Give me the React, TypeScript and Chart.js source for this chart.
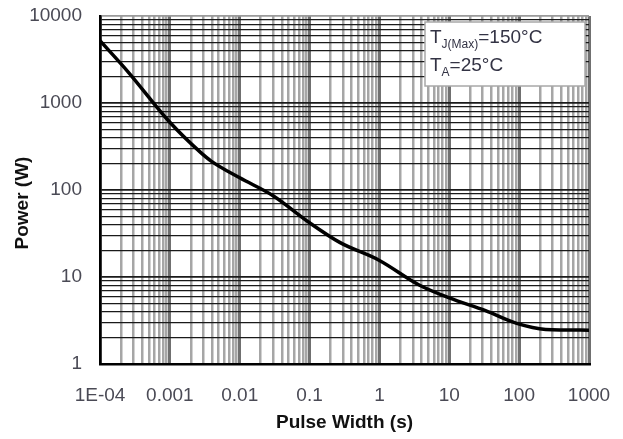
import React, { useEffect, useRef } from "react";
import { Chart, registerables } from "chart.js";

Chart.register(...registerables);

// Pulse width (s) and peak power (W)
const pulseWidth = [1e-4, 2.5e-4, 0.001, 0.0027, 0.0039, 0.01, 0.03, 0.1, 0.27, 1, 3.7, 10, 33, 90, 240, 1000];
const power = [5200, 2300, 600, 274, 215, 138, 86, 42, 25, 15.5, 8.1, 5.75, 4.1, 2.95, 2.5, 2.45];

const xTickLabels = ["1E-04", "0.001", "0.01", "0.1", "1", "10", "100", "1000"];
const yTickLabels = ["1", "10", "100", "1000", "10000"];
const xMin = 1e-4;
const xMax = 1000;
const yMin = 1;
const yMax = 10000;

const xTitle = "Pulse Width (s)";
const yTitle = "Power (W)";
const noteLine1 = { main: "T", sub: "J(Max)", rest: "=150°C" };
const noteLine2 = { main: "T", sub: "A", rest: "=25°C" };

function logTicks(min: number, max: number) {
  const out: { value: number }[] = [];
  const e0 = Math.round(Math.log10(min));
  const e1 = Math.round(Math.log10(max));
  for (let e = e0; e < e1; e++) {
    for (let s = 1; s <= 9; s++) out.push({ value: s * Math.pow(10, e) });
  }
  out.push({ value: Math.pow(10, e1) });
  return out;
}

function isMajor(v: number) {
  const l = Math.log10(v);
  return Math.abs(l - Math.round(l)) < 1e-6;
}

function majorIndex(v: number, min: number) {
  return Math.round(Math.log10(v) - Math.log10(min));
}

const FONT = "'Liberation Sans', Arial, sans-serif";

const decorPlugin = {
  id: "decor",
  beforeDatasetsDraw(chart: any) {
    const ctx = chart.ctx as CanvasRenderingContext2D;
    ctx.save();
    // note box
    const bx = 425, by = 22, bw = 160, bh = 64;
    ctx.fillStyle = "#ffffff";
    ctx.fillRect(bx, by, bw, bh);
    ctx.strokeStyle = "#a8a8a8";
    ctx.lineWidth = 1.5;
    ctx.strokeRect(bx, by, bw, bh);
    const drawNote = (n: { main: string; sub: string; rest: string }, x: number, base: number) => {
      ctx.fillStyle = "#333344";
      ctx.textBaseline = "alphabetic";
      ctx.textAlign = "left";
      ctx.font = `19px ${FONT}`;
      ctx.fillText(n.main, x, base);
      let cx = x + ctx.measureText(n.main).width;
      ctx.font = `12px ${FONT}`;
      ctx.fillText(n.sub, cx, base + 5);
      cx += ctx.measureText(n.sub).width;
      ctx.font = `19px ${FONT}`;
      ctx.fillText(n.rest, cx, base);
    };
    drawNote(noteLine1, 430, 43);
    drawNote(noteLine2, 430, 71);
    ctx.restore();
  },
  afterDraw(chart: any) {
    const ctx = chart.ctx as CanvasRenderingContext2D;
    const area = chart.chartArea;
    ctx.save();
    ctx.fillStyle = "#111111";
    ctx.font = `bold 19px ${FONT}`;
    ctx.textAlign = "center";
    ctx.textBaseline = "middle";
    ctx.fillText(xTitle, (area.left + area.right) / 2, 423);
    ctx.translate(23, 203);
    ctx.rotate(-Math.PI / 2);
    ctx.fillText(yTitle, 0, 0);
    ctx.restore();
  },
};

export default function App() {
  const ref = useRef<HTMLCanvasElement | null>(null);
  useEffect(() => {
    if (!ref.current) return;
    const data = pulseWidth.map((x, i) => ({ x, y: power[i] }));
    const chart = new Chart(ref.current, {
      type: "line",
      data: {
        datasets: [
          {
            data,
            borderColor: "#000000",
            borderWidth: 3.5,
            pointRadius: 0,
            cubicInterpolationMode: "monotone",
            fill: false,
          },
        ],
      },
      options: {
        animation: false,
        responsive: false,
        maintainAspectRatio: false,
        layout: { padding: { top: 16, right: 34, left: 0, bottom: 0 } },
        plugins: { legend: { display: false }, tooltip: { enabled: false } },
        scales: {
          x: {
            type: "logarithmic",
            min: xMin,
            max: xMax,
            afterBuildTicks: (s: any) => {
              s.ticks = logTicks(xMin, xMax);
            },
            afterFit: (s: any) => {
              s.height = 75;
              s.paddingLeft = 0;
              s.paddingRight = 0;
            },
            ticks: {
              autoSkip: false,
              maxRotation: 0,
              minRotation: 0,
              padding: 20,
              color: "#4a4a55",
              font: { family: FONT, size: 19 },
              callback: (v: any) => (isMajor(Number(v)) ? xTickLabels[majorIndex(Number(v), xMin)] : ""),
            },
            grid: {
              drawTicks: false,
              color: (c: any) => (c.tick && isMajor(c.tick.value) ? "#707070" : "#a6a6a6"),
              lineWidth: (c: any) => (c.tick && isMajor(c.tick.value) ? 3 : 2.5),
            },
            border: { display: true, color: "#000000", width: 2.5 },
          },
          y: {
            type: "logarithmic",
            min: yMin,
            max: yMax,
            afterBuildTicks: (s: any) => {
              s.ticks = logTicks(yMin, yMax);
            },
            afterFit: (s: any) => {
              s.width = 100;
              s.paddingTop = 0;
              s.paddingBottom = 0;
            },
            ticks: {
              autoSkip: false,
              padding: 18,
              color: "#4a4a55",
              font: { family: FONT, size: 19 },
              callback: (v: any) => (isMajor(Number(v)) ? yTickLabels[majorIndex(Number(v), yMin)] : ""),
            },
            grid: {
              drawTicks: false,
              color: (c: any) => (c.tick && c.tick.value >= yMax ? "#9a9a9a" : "#1a1a1a"),
              lineWidth: (c: any) => (c.tick && isMajor(c.tick.value) ? 1.8 : 1.2),
            },
            border: { display: true, color: "#000000", width: 2.5 },
          },
        },
      },
      plugins: [decorPlugin],
    } as any);
    return () => chart.destroy();
  }, []);
  return (
    <div style={{ position: "absolute", left: 0, top: 0, width: 623, height: 439, background: "#fff" }}>
      <canvas ref={ref} width={623} height={439} style={{ display: "block" }} />
    </div>
  );
}
